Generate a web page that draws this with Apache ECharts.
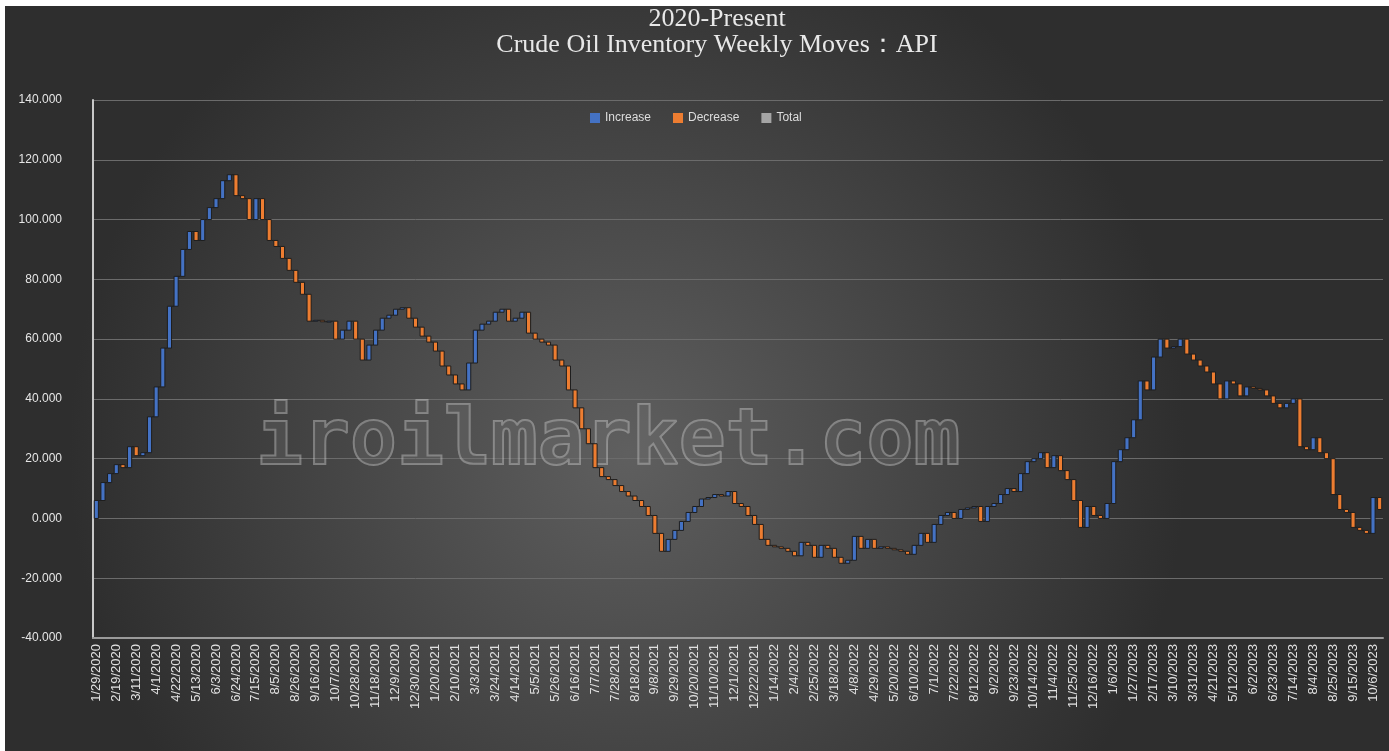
<!DOCTYPE html>
<html>
<head>
<meta charset="utf-8">
<script src="https://cdn.jsdelivr.net/npm/echarts@6/dist/echarts.min.js"></script>
<style>
  html, body { margin: 0; padding: 0; background: #fff; }
  #chart { position: absolute; left: 5px; top: 6px; width: 1384px; height: 745px; }
</style>
</head>
<body>
<div id="chart"></div>
<script>
// x tick labels (every 3rd week is labelled)
const tickLabels = [
  '1/29/2020', '2/19/2020', '3/11/2020', '4/1/2020', '4/22/2020', '5/13/2020', '6/3/2020', '6/24/2020',
  '7/15/2020', '8/5/2020', '8/26/2020', '9/16/2020', '10/7/2020', '10/28/2020', '11/18/2020', '12/9/2020',
  '12/30/2020', '1/20/2021', '2/10/2021', '3/3/2021', '3/24/2021', '4/14/2021', '5/5/2021', '5/26/2021',
  '6/16/2021', '7/7/2021', '7/28/2021', '8/18/2021', '9/8/2021', '9/29/2021', '10/20/2021', '11/10/2021',
  '12/1/2021', '12/22/2021', '1/14/2022', '2/4/2022', '2/25/2022', '3/18/2022', '4/8/2022', '4/29/2022',
  '5/20/2022', '6/10/2022', '7/1/2022', '7/22/2022', '8/12/2022', '9/2/2022', '9/23/2022', '10/14/2022',
  '11/4/2022', '11/25/2022', '12/16/2022', '1/6/2023', '1/27/2023', '2/17/2023', '3/10/2023', '3/31/2023',
  '4/21/2023', '5/12/2023', '6/2/2023', '6/23/2023', '7/14/2023', '8/4/2023', '8/25/2023', '9/15/2023',
  '10/6/2023'
];

// weekly inventory change (million barrels)
const weeklyChange = [
  6, 6, 3, 3, -1, 7, -3, 1, 12, 10,
  13, 14, 10, 9, 6, -3, 7, 4, 3, 6,
  2, -7, -1, -7, 7, -7, -7, -2, -4, -4,
  -4, -4, -9, 0.3, -0.5, 0.2, -6, 3, 3, -6,
  -7, 5, 5, 4, 1, 2, 0.5, -3.5, -3, -3,
  -2, -3, -5, -3, -3, -2, 9, 11, 2, 1,
  3, 1, -4, 1, 2, -7, -2, -1, -1, -5,
  -2, -8, -6, -7, -5, -8, -3, -1, -2, -2,
  -1.5, -1.5, -2, -3, -6, -6, 4, 3, 3, 3,
  2, 2.5, 0.5, 1, -0.5, 1.5, -4, -1, -3, -3,
  -5, -2, -0.5, -0.5, -1, -1.5, 4.5, -1, -4, 4,
  -1, -3, -2, 1, 8, -4, 3, -3, 0.5, -0.5,
  -0.5, -0.5, -1, 3, 4, -3, 6, 3, 1, -2,
  3, 0.5, 0.5, -5, 5, 1, 3, 2, -1, 6,
  4, 1, 2, -5, 4, -5, -3, -7, -9, 7,
  -3, -1, 5, 14, 4, 4, 6, 13, -3, 11,
  6, -3, 0.5, 2.5, -5, -2, -2, -2, -4, -5,
  6, -1, -4, 3, -0.5, -0.5, -2, -2.5, -1.5, 1.5,
  1.5, -16, -1, 4, -5, -2, -12, -5, -1, -5,
  -1, -1, 12, -4
];

const titleLines = ['2020-Present', 'Crude Oil Inventory Weekly Moves：API'];
const legendNames = ['Increase', 'Decrease', 'Total'];
const legendColors = ['#4472c4', '#ed7d31', '#a5a5a5'];

function addDays(label, n) {
  const [m, d, y] = label.split('/').map(Number);
  const dt = new Date(y, m - 1, d + n);
  return (dt.getMonth() + 1) + '/' + dt.getDate() + '/' + dt.getFullYear();
}

const categories = [];
tickLabels.forEach(l => categories.push(l, addDays(l, 7), addDays(l, 14)));
categories.length = weeklyChange.length;

// running level -> [index, start, end]
let level = 0;
const ups = [];
const downs = [];
weeklyChange.forEach((c, i) => {
  const start = level;
  level = +(level + c).toFixed(2);
  (c >= 0 ? ups : downs).push([i, start, level]);
});

function renderStep(params, api) {
  const i = api.value(0);
  const a = api.coord([i, api.value(1)]);
  const b = api.coord([i, api.value(2)]);
  const band = api.size([1, 0])[0];
  const w = band * 0.62;
  const top = Math.min(a[1], b[1]);
  const h = Math.max(Math.abs(a[1] - b[1]), 1);
  const children = [{
    type: 'rect',
    shape: { x: a[0] - w / 2, y: top, width: w, height: h },
    style: { fill: api.visual('color'), stroke: '#1e1e1e', lineWidth: 1 }
  }];
  if (i < weeklyChange.length - 1) {
    children.push({
      type: 'line',
      shape: { x1: a[0] + w / 2, y1: b[1], x2: a[0] + band - w / 2, y2: b[1] },
      style: { stroke: '#1e1e1e', lineWidth: 1 }
    });
  }
  return { type: 'group', children };
}

const titleFont = '26px "Liberation Serif"';

const chart = echarts.init(document.getElementById('chart'));
chart.setOption({
  backgroundColor: new echarts.graphic.RadialGradient(0.45, 0.6, 0.75, [
    { offset: 0, color: '#5f5f5f' },
    { offset: 1, color: '#2e2e2e' }
  ]),
  animation: false,
  legend: {
    data: legendNames,
    left: 580,
    top: 101,
    itemWidth: 10,
    itemHeight: 10,
    itemGap: 22,
    icon: 'rect',
    textStyle: { color: '#dddddd', fontSize: 12, fontFamily: 'Liberation Sans' }
  },
  graphic: [
    {
      type: 'text', x: 712, y: 0, z: 5,
      style: { text: titleLines[0], font: titleFont, fill: '#e8e8e8', textAlign: 'center' }
    },
    {
      type: 'text', x: 712, y: 26, z: 5,
      style: { text: titleLines[1], font: titleFont, fill: '#e8e8e8', textAlign: 'center' }
    },
    {
      type: 'text', left: 250, top: 398, z: 1,
      style: {
        text: 'iroilmarket.com',
        font: 'bold 78px "DejaVu Sans Mono"',
        fill: 'rgba(120,120,120,0.25)',
        stroke: 'rgba(215,215,215,0.42)',
        lineWidth: 2
      }
    }
  ],
  grid: { left: 88, right: 6, top: 94, bottom: 113 },
  xAxis: {
    type: 'category',
    data: categories,
    axisLine: { onZero: false, lineStyle: { color: '#9a9a9a', width: 2 } },
    axisTick: { show: false },
    axisLabel: {
      interval: 2,
      rotate: 90,
      color: '#e0e0e0',
      fontSize: 13,
      fontFamily: 'Liberation Sans',
      margin: 6
    },
    splitLine: { show: false }
  },
  yAxis: {
    type: 'value',
    min: -40,
    max: 140,
    interval: 20,
    axisLine: { show: true, lineStyle: { color: '#c8c8c8', width: 2 } },
    axisTick: { show: false },
    axisLabel: {
      color: '#e6e6e6',
      fontSize: 12,
      fontFamily: 'Liberation Sans',
      margin: 31,
      formatter: v => v.toFixed(3)
    },
    splitLine: { lineStyle: { color: '#6b6b6b', width: 1 } }
  },
  series: [
    {
      name: 'Increase',
      type: 'custom',
      renderItem: renderStep,
      itemStyle: { color: legendColors[0] },
      encode: { x: 0, y: [1, 2] },
      data: ups,
      z: 3
    },
    {
      name: 'Decrease',
      type: 'custom',
      renderItem: renderStep,
      itemStyle: { color: legendColors[1] },
      encode: { x: 0, y: [1, 2] },
      data: downs,
      z: 3
    },
    {
      name: 'Total',
      type: 'bar',
      itemStyle: { color: legendColors[2] },
      data: []
    }
  ]
});
</script>
</body>
</html>
